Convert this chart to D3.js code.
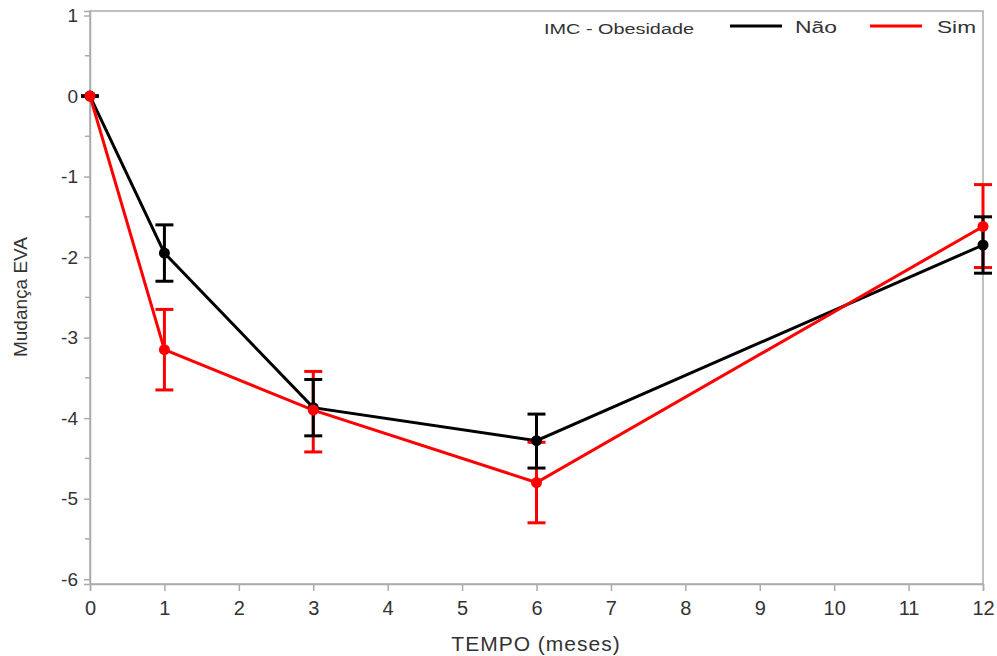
<!DOCTYPE html>
<html>
<head>
<meta charset="utf-8">
<script src="https://cdn.jsdelivr.net/npm/d3@7"></script>
<style>
  body { margin: 0; background: #fff; }
  svg { font-family: "Liberation Sans", Arial, sans-serif; }
</style>
</head>
<body>
<div id="chart"></div>
<script>
const tempo = [0, 1, 3, 6, 12];
const naoMean = [0, -1.95, -3.87, -4.28, -1.85];
const naoLow  = [0, -2.30, -4.22, -4.62, -2.20];
const naoHigh = [0, -1.60, -3.52, -3.95, -1.50];
const simMean = [0, -3.15, -3.90, -4.80, -1.62];
const simLow  = [0, -3.65, -4.42, -5.30, -2.13];
const simHigh = [0, -2.65, -3.42, -4.30, -1.10];
const xTicks = d3.range(0, 13);
const yTicks = [1, 0, -1, -2, -3, -4, -5, -6];

const width = 997, height = 656;
const plotL = 90, plotR = 983, plotT = 11, plotB = 584;

const svg = d3.select("#chart").append("svg")
  .attr("width", width).attr("height", height);

const x = d3.scaleLinear().domain([0, 12]).range([plotL, plotR]);
const y = d3.scaleLinear().domain([-6.06, 1.056]).range([plotB, plotT]);

const axisColor = "#a9acae";
const textColor = "#333";

// frame
svg.append("rect")
  .attr("x", plotL).attr("y", plotT)
  .attr("width", plotR - plotL).attr("height", plotB - plotT)
  .attr("fill", "none").attr("stroke", axisColor).attr("stroke-width", 1.5);

// x axis
const gx = svg.append("g").attr("transform", `translate(0,${plotB})`)
  .call(d3.axisBottom(x).tickValues(xTicks).tickSize(7).tickPadding(10).tickFormat(d3.format("d")));
gx.select(".domain").attr("stroke", axisColor).attr("stroke-width", 1.5);
gx.selectAll(".tick line").attr("stroke", axisColor).attr("stroke-width", 1.5);
gx.selectAll(".tick text").attr("fill", textColor).attr("font-size", 20).attr("font-family", "Liberation Sans, Arial, sans-serif");

// y axis
const gy = svg.append("g").attr("transform", `translate(${plotL},0)`)
  .call(d3.axisLeft(y).tickValues(yTicks).tickSize(6).tickPadding(6).tickFormat(d => d < 0 ? "-" + Math.abs(d) : d));
gy.select(".domain").attr("stroke", axisColor).attr("stroke-width", 1.5);
gy.selectAll(".tick line").attr("stroke", axisColor).attr("stroke-width", 1.5);
gy.selectAll(".tick text").attr("fill", textColor).attr("font-size", 19).attr("font-family", "Liberation Sans, Arial, sans-serif");

// minor y ticks
const minor = d3.range(-5.5, 1, 1);
svg.append("g").selectAll("line").data(minor).enter().append("line")
  .attr("x1", plotL - 5).attr("x2", plotL)
  .attr("y1", d => y(d)).attr("y2", d => y(d))
  .attr("stroke", axisColor).attr("stroke-width", 1.5);

// axis titles
svg.append("text")
  .attr("x", 536).attr("y", 651)
  .attr("text-anchor", "middle").attr("font-size", 21).attr("letter-spacing", 1)
  .attr("fill", textColor)
  .text("TEMPO (meses)");
svg.append("text")
  .attr("transform", `translate(27,297) rotate(-90)`)
  .attr("text-anchor", "middle").attr("font-size", 19).attr("fill", textColor)
  .text("Mudança EVA");

const series = [
  {name: "Não", color: "#000000", mean: naoMean, low: naoLow, high: naoHigh},
  {name: "Sim", color: "#ff0000", mean: simMean, low: simLow, high: simHigh}
];

const line = d3.line().x(d => x(d[0])).y(d => y(d[1]));

// lines
series.forEach(s => {
  svg.append("path")
    .datum(tempo.map((t, i) => [t, s.mean[i]]))
    .attr("d", line).attr("fill", "none")
    .attr("stroke", s.color).attr("stroke-width", 3);
});

// error bars (red first, black on top)
const capW = 9;
[series[1], series[0]].forEach(s => {
  const g = svg.append("g").attr("stroke", s.color).attr("stroke-width", 3);
  tempo.forEach((t, i) => {
    const cx = x(t);
    g.append("line").attr("x1", cx).attr("x2", cx)
      .attr("y1", y(s.low[i])).attr("y2", y(s.high[i]));
    [s.low[i], s.high[i]].forEach(v => {
      g.append("line").attr("x1", cx - capW).attr("x2", cx + capW)
        .attr("y1", y(v)).attr("y2", y(v));
    });
  });
});

// markers
series.forEach(s => {
  svg.append("g").selectAll("circle").data(tempo).enter().append("circle")
    .attr("cx", d => x(d)).attr("cy", (d, i) => y(s.mean[i]))
    .attr("r", 5.5).attr("fill", s.color);
});

// legend
const leg = svg.append("g");
leg.append("text").attr("x", 544).attr("y", 34)
  .attr("font-size", 14).attr("fill", textColor)
  .attr("textLength", 150).attr("lengthAdjust", "spacingAndGlyphs")
  .text("IMC - Obesidade");
const items = [
  {s: series[0], x1: 730, tx: 795, tw: 42},
  {s: series[1], x1: 870, tx: 937, tw: 39}
];
items.forEach(it => {
  leg.append("line").attr("x1", it.x1).attr("x2", it.x1 + 52)
    .attr("y1", 26).attr("y2", 26)
    .attr("stroke", it.s.color).attr("stroke-width", 3);
  leg.append("text").attr("x", it.tx).attr("y", 33)
    .attr("font-size", 17).attr("fill", textColor)
    .attr("textLength", it.tw).attr("lengthAdjust", "spacingAndGlyphs")
    .text(it.s.name);
});
</script>
</body>
</html>
